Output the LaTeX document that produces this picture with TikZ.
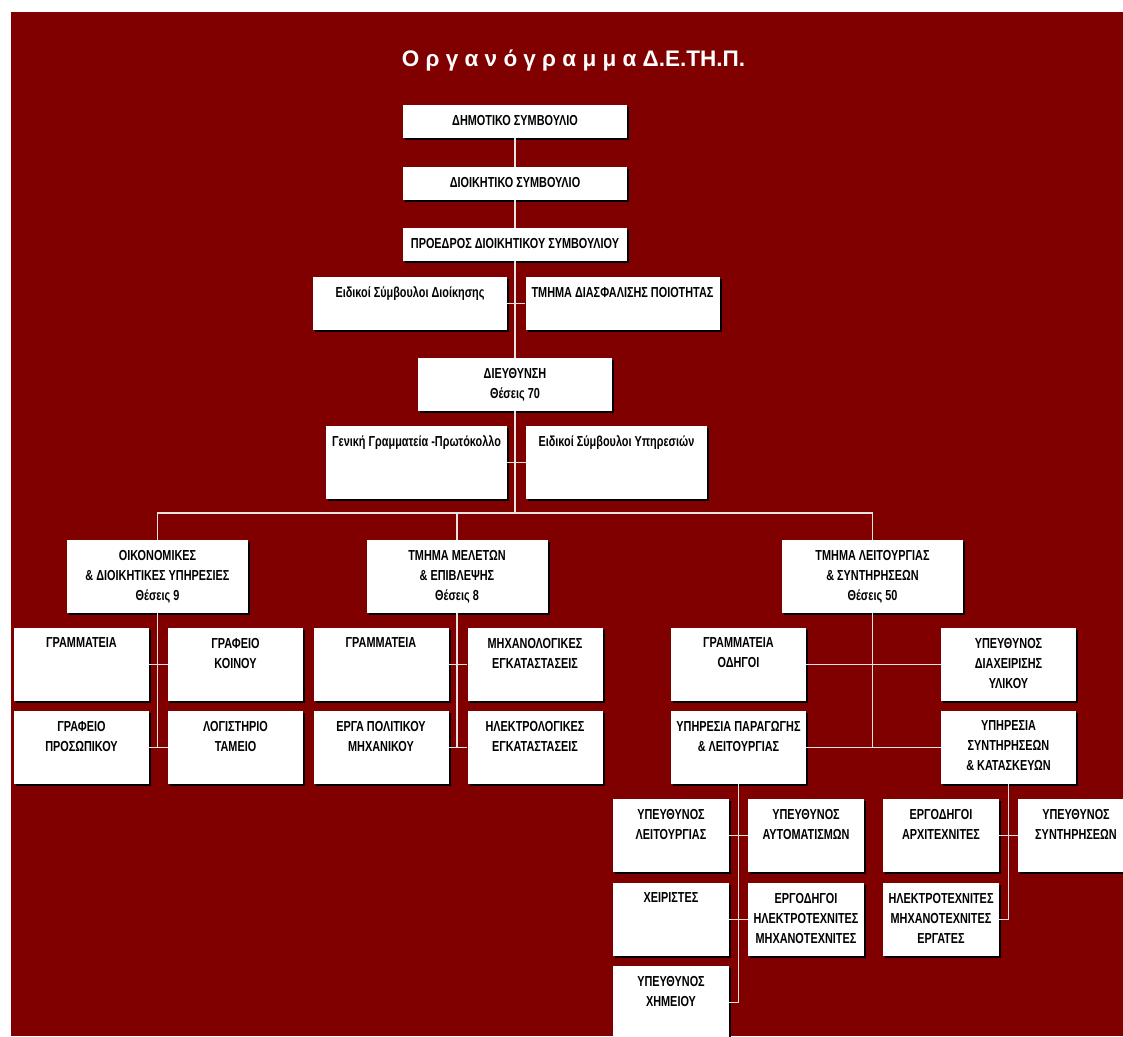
\documentclass[tikz,border=0pt]{standalone}
\usepackage{fontspec}
\setmainfont{Liberation Sans}
\newfontfamily\narrowfont{Liberation Sans}[FakeStretch=0.75]
\usepackage{xcolor}
\usetikzlibrary{shadows, positioning}

\definecolor{bgred}{HTML}{800000}
\definecolor{linkgray}{HTML}{E4E4E4}

\begin{document}
\begin{tikzpicture}[
  x=1pt, y=-1pt,
  box/.style={rectangle, fill=white, inner sep=0pt, drop shadow={shadow xshift=2pt, shadow yshift=-2pt, fill=black, opacity=1}},
  wide/.style={box, minimum width=224pt, minimum height=33pt},
  mid/.style={box, minimum width=194pt, minimum height=53pt},
  dept/.style={box, minimum width=181pt, minimum height=73pt},
  unit/.style={box, minimum width=135pt, minimum height=73pt},
  post/.style={box, minimum width=116pt, minimum height=73pt},
  txt/.style={anchor=north, yshift=-10pt, inner sep=0pt, align=center, font=\narrowfont\bfseries\fontsize{14.5}{20}\selectfont},
  link/.style={draw=linkgray, line width=1.2pt}
]
\useasboundingbox (0,0) rectangle (1123,1036);
\clip (0,0) rectangle (1123,1036);
\fill[bgred] (11,12) rectangle (1123,1036);

%% Title
\node[font=\bfseries\fontsize{22.5}{27}\selectfont, text=white, anchor=base] (title) at (573.5, 66) {Ο ρ γ α ν ό γ ρ α μ μ α Δ.Ε.ΤΗ.Π.};

%% Boxes
\node[wide, label={[txt]north:ΔΗΜΟΤΙΚΟ ΣΥΜΒΟΥΛΙΟ}] (dimot) at (515, 121.5) {};
\node[wide, label={[txt]north:ΔΙΟΙΚΗΤΙΚΟ ΣΥΜΒΟΥΛΙΟ}] (dioik) at (515, 183.5) {};
\node[wide, label={[txt]north:ΠΡΟΕΔΡΟΣ ΔΙΟΙΚΗΤΙΚΟΥ ΣΥΜΒΟΥΛΙΟΥ}] (proed) at (515, 244.5) {};
\node[mid, label={[txt]north:Ειδικοί Σύμβουλοι Διοίκησης}] (eiddioik) at (410, 303.5) {};
\node[mid, label={[txt]north:ΤΜΗΜΑ ΔΙΑΣΦΑΛΙΣΗΣ ΠΟΙΟΤΗΤΑΣ}] (poiot) at (622.5, 303.5) {};
\node[mid, label={[txt]north:{ΔΙΕΥΘΥΝΣΗ\\Θέσεις 70}}] (dieuth) at (515, 384.5) {};
\node[dept, label={[txt]north:Γενική Γραμματεία -Πρωτόκολλο}] (genik) at (416.5, 462.5) {};
\node[dept, label={[txt]north:Ειδικοί Σύμβουλοι Υπηρεσιών}] (eidyp) at (616.5, 462.5) {};

\node[dept, label={[txt]north:{ΟΙΚΟΝΟΜΙΚΕΣ\\\& ΔΙΟΙΚΗΤΙΚΕΣ ΥΠΗΡΕΣΙΕΣ\\Θέσεις 9}}] (oikon) at (157.5, 576.5) {};
\node[dept, label={[txt]north:{ΤΜΗΜΑ ΜΕΛΕΤΩΝ\\\& ΕΠΙΒΛΕΨΗΣ\\Θέσεις 8}}] (melet) at (457, 576.5) {};
\node[dept, label={[txt]north:{ΤΜΗΜΑ ΛΕΙΤΟΥΡΓΙΑΣ\\\& ΣΥΝΤΗΡΗΣΕΩΝ\\Θέσεις 50}}] (leitsyn) at (872.5, 576.5) {};

\node[unit, label={[txt]north:ΓΡΑΜΜΑΤΕΙΑ}] (gramoik) at (81.5, 664.5) {};
\node[unit, label={[txt]north:{ΓΡΑΦΕΙΟ\\ΚΟΙΝΟΥ}}] (koinou) at (235.5, 664.5) {};
\node[unit, label={[txt]north:{ΓΡΑΦΕΙΟ\\ΠΡΟΣΩΠΙΚΟΥ}}] (prosop) at (81.5, 747.5) {};
\node[unit, label={[txt]north:{ΛΟΓΙΣΤΗΡΙΟ\\ΤΑΜΕΙΟ}}] (logist) at (235.5, 747.5) {};

\node[unit, label={[txt]north:ΓΡΑΜΜΑΤΕΙΑ}] (grammel) at (381, 664.5) {};
\node[unit, label={[txt]north:{ΜΗΧΑΝΟΛΟΓΙΚΕΣ\\ΕΓΚΑΤΑΣΤΑΣΕΙΣ}}] (mhxan) at (535, 664.5) {};
\node[unit, label={[txt]north:{ΕΡΓΑ ΠΟΛΙΤΙΚΟΥ\\ΜΗΧΑΝΙΚΟΥ}}] (ergapol) at (381, 747.5) {};
\node[unit, label={[txt]north:{ΗΛΕΚΤΡΟΛΟΓΙΚΕΣ\\ΕΓΚΑΤΑΣΤΑΣΕΙΣ}}] (hlektr) at (535, 747.5) {};

\node[unit, label={[txt]north:{ΓΡΑΜΜΑΤΕΙΑ\\ΟΔΗΓΟΙ}}] (odigoi) at (738.5, 664.5) {};
\node[unit, label={[txt]north:{ΥΠΕΥΘΥΝΟΣ\\ΔΙΑΧΕΙΡΙΣΗΣ\\ΥΛΙΚΟΥ}}] (diaxeir) at (1008.5, 664.5) {};
\node[unit, label={[txt]north:{ΥΠΗΡΕΣΙΑ ΠΑΡΑΓΩΓΗΣ\\\& ΛΕΙΤΟΥΡΓΙΑΣ}}] (paragog) at (738.5, 747.5) {};
\node[unit, label={[txt]north:{ΥΠΗΡΕΣΙΑ\\ΣΥΝΤΗΡΗΣΕΩΝ\\\& ΚΑΤΑΣΚΕΥΩΝ}}] (syntir) at (1008.5, 747.5) {};

\node[post, label={[txt]north:{ΥΠΕΥΘΥΝΟΣ\\ΛΕΙΤΟΥΡΓΙΑΣ}}] (ypleit) at (671, 835.5) {};
\node[post, label={[txt]north:{ΥΠΕΥΘΥΝΟΣ\\ΑΥΤΟΜΑΤΙΣΜΩΝ}}] (ypaut) at (806, 835.5) {};
\node[post, label={[txt]north:ΧΕΙΡΙΣΤΕΣ}] (xeir) at (671, 919.5) {};
\node[post, label={[txt]north:{ΕΡΓΟΔΗΓΟΙ\\ΗΛΕΚΤΡΟΤΕΧΝΙΤΕΣ\\ΜΗΧΑΝΟΤΕΧΝΙΤΕΣ}}] (ergodil) at (806, 919.5) {};
\node[post, label={[txt]north:{ΥΠΕΥΘΥΝΟΣ\\ΧΗΜΕΙΟΥ}}] (xhmeio) at (671, 1002.5) {};
\node[post, label={[txt]north:{ΕΡΓΟΔΗΓΟΙ\\ΑΡΧΙΤΕΧΝΙΤΕΣ}}] (arxit) at (941, 835.5) {};
\node[post, label={[txt]north:{ΥΠΕΥΘΥΝΟΣ\\ΣΥΝΤΗΡΗΣΕΩΝ}}] (ypsynt) at (1076, 835.5) {};
\node[post, label={[txt]north:{ΗΛΕΚΤΡΟΤΕΧΝΙΤΕΣ\\ΜΗΧΑΝΟΤΕΧΝΙΤΕΣ\\ΕΡΓΑΤΕΣ}}] (ergates) at (941, 919.5) {};

%% Links
\coordinate (bus) at (515, 513);
\draw[link] (dimot) -- (dioik);
\draw[link] (dioik) -- (proed);
\draw[link] (proed) -- (dieuth);
\draw[link] (eiddioik) -- (poiot);
\draw[link] (dieuth) -- (bus);
\draw[link] (genik) -- (eidyp);
\draw[link] (oikon) |- (bus) -| (leitsyn);
\draw[link] (melet) -- (melet |- bus);

\draw[link] (oikon) -- (oikon |- logist);
\draw[link] (gramoik) -- (koinou);
\draw[link] (prosop) -- (logist);
\draw[link] (melet) -- (melet |- hlektr);
\draw[link] (grammel) -- (mhxan);
\draw[link] (ergapol) -- (hlektr);
\draw[link] (leitsyn) -- (leitsyn |- syntir);
\draw[link] (odigoi) -- (diaxeir);
\draw[link] (paragog) -- (syntir);

\draw[link] (paragog) -- (paragog |- xhmeio);
\draw[link] (ypleit) -- (ypaut);
\draw[link] (xeir) -- (ergodil);
\draw[link] (xhmeio) -- (paragog |- xhmeio);
\draw[link] (syntir) -- (syntir |- ergates);
\draw[link] (arxit) -- (ypsynt);
\draw[link] (ergates) -- (syntir |- ergates);

\end{tikzpicture}
\end{document}
